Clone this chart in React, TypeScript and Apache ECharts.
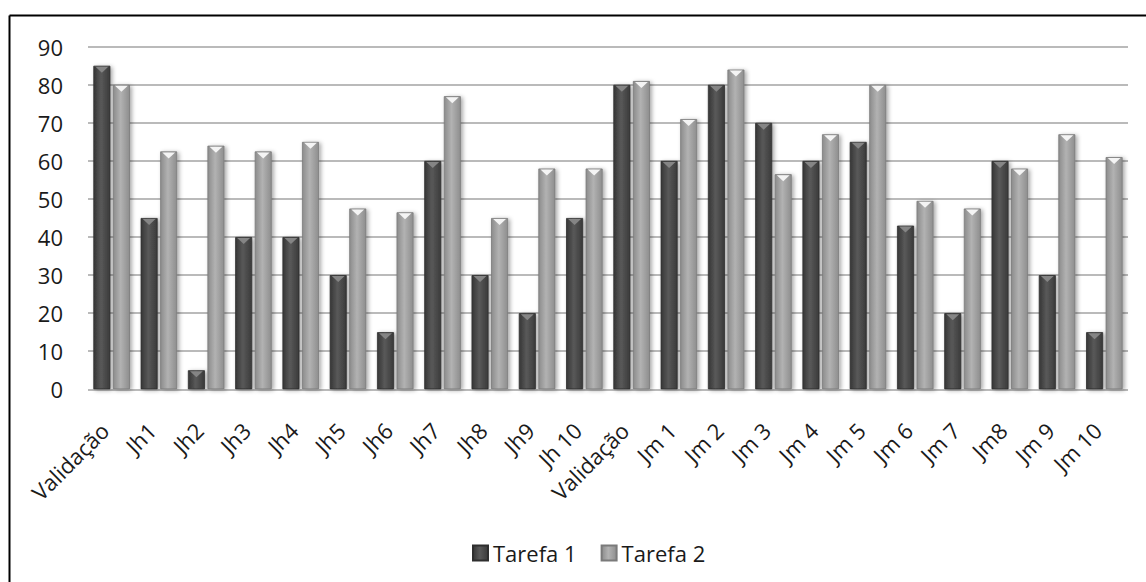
import React, { useEffect, useRef } from "react";
import * as echarts from "echarts";

// Categories along the x axis
const categories = [
  "Validação", "Jh1", "Jh2", "Jh3", "Jh4", "Jh5", "Jh6", "Jh7", "Jh8", "Jh9", "Jh 10",
  "Validação", "Jm 1", "Jm 2", "Jm 3", "Jm 4", "Jm 5", "Jm 6", "Jm 7", "Jm8", "Jm 9", "Jm 10",
];

// Series values
const tarefa1 = [85, 45, 5, 40, 40, 30, 15, 60, 30, 20, 45, 80, 60, 80, 70, 60, 65, 43, 20, 60, 30, 15];
const tarefa2 = [80, 62.5, 64, 62.5, 65, 47.5, 46.5, 77, 45, 58, 58, 81, 71, 84, 56.5, 67, 80, 49.5, 47.5, 58, 67, 61];

// Y axis ticks
const yMin = 0;
const yMax = 90;
const yStep = 10;

const FONT = "'Open Sans', 'Noto Sans', sans-serif";

const darkFill = new echarts.graphic.LinearGradient(0, 0, 1, 0, [
  { offset: 0, color: "#363636" },
  { offset: 0.45, color: "#595959" },
  { offset: 1, color: "#3a3a3a" },
]);
const lightFill = new echarts.graphic.LinearGradient(0, 0, 1, 0, [
  { offset: 0, color: "#8c8c8c" },
  { offset: 0.45, color: "#b2b2b2" },
  { offset: 1, color: "#8e8e8e" },
]);

const BAR_W = 17;
const BAR_GAP = "15%";

export default function App() {
  const ref = useRef<HTMLDivElement>(null);

  useEffect(() => {
    if (!ref.current) return;
    const chart = echarts.init(ref.current, null, { renderer: "svg" });

    const barShadow = {
      shadowBlur: 4,
      shadowColor: "rgba(0,0,0,0.35)",
      shadowOffsetX: 2,
      shadowOffsetY: 1,
    };

    const capSeries = (name: string, data: number[], color: string) => ({
      name,
      type: "pictorialBar",
      data,
      barWidth: BAR_W,
      barGap: BAR_GAP,
      symbol: "triangle",
      symbolRotate: 180,
      symbolSize: [13, 6],
      symbolPosition: "end",
      symbolOffset: [0, 1],
      z: 3,
      silent: true,
      itemStyle: { color },
    });

    chart.setOption({
      animation: false,
      backgroundColor: "#ffffff",
      graphic: [
        {
          type: "line",
          shape: { x1: 9.5, y1: 15.5, x2: 1146, y2: 15.5 },
          style: { stroke: "#000000", lineWidth: 2 },
          silent: true,
        },
        {
          type: "line",
          shape: { x1: 9.5, y1: 15.5, x2: 9.5, y2: 582 },
          style: { stroke: "#000000", lineWidth: 2 },
          silent: true,
        },
      ],
      grid: { left: 88, right: 18, top: 46.7, bottom: 192.7 },
      legend: {
        data: ["Tarefa 1", "Tarefa 2"],
        left: 467,
        top: 537,
        itemWidth: 15,
        itemHeight: 15,
        itemGap: 24,
        icon: "rect",
        textStyle: { fontFamily: FONT, fontSize: 22, color: "#1a1a1a" },
      },
      xAxis: {
        type: "category",
        data: categories,
        axisLine: {
          lineStyle: {
            color: "#8a8a8a",
            width: 1.5,
            shadowBlur: 3,
            shadowColor: "rgba(0,0,0,0.35)",
            shadowOffsetY: 2,
          },
        },
        axisTick: { show: false },
        axisLabel: {
          interval: 0,
          rotate: 45,
          margin: 30,
          padding: [0, 10, 0, 0],
          fontFamily: FONT,
          fontSize: 22,
          color: "#1a1a1a",
        },
      },
      yAxis: {
        type: "value",
        min: yMin,
        max: yMax,
        interval: yStep,
        axisLine: { show: false },
        axisTick: { show: false },
        axisLabel: {
          margin: 25,
          fontFamily: FONT,
          fontSize: 22,
          color: "#1a1a1a",
        },
        splitLine: { lineStyle: { color: "#a3a3a3", width: 1.5 } },
      },
      series: [
        {
          name: "Tarefa 1",
          type: "bar",
          data: tarefa1,
          barWidth: BAR_W,
          barGap: BAR_GAP,
          itemStyle: { color: darkFill, borderColor: "#2e2e2e", borderWidth: 0.8, ...barShadow },
        },
        {
          name: "Tarefa 2",
          type: "bar",
          data: tarefa2,
          barWidth: BAR_W,
          barGap: BAR_GAP,
          itemStyle: { color: lightFill, borderColor: "#7a7a7a", borderWidth: 0.8, ...barShadow },
        },
        capSeries("Tarefa 1 cap", tarefa1, "#858585"),
        capSeries("Tarefa 2 cap", tarefa2, "#f4f4f4"),
      ],
    });

    return () => chart.dispose();
  }, []);

  return (
    <div
      ref={ref}
      style={{ position: "fixed", left: 0, top: 0, width: 1146, height: 582 }}
    />
  );
}
